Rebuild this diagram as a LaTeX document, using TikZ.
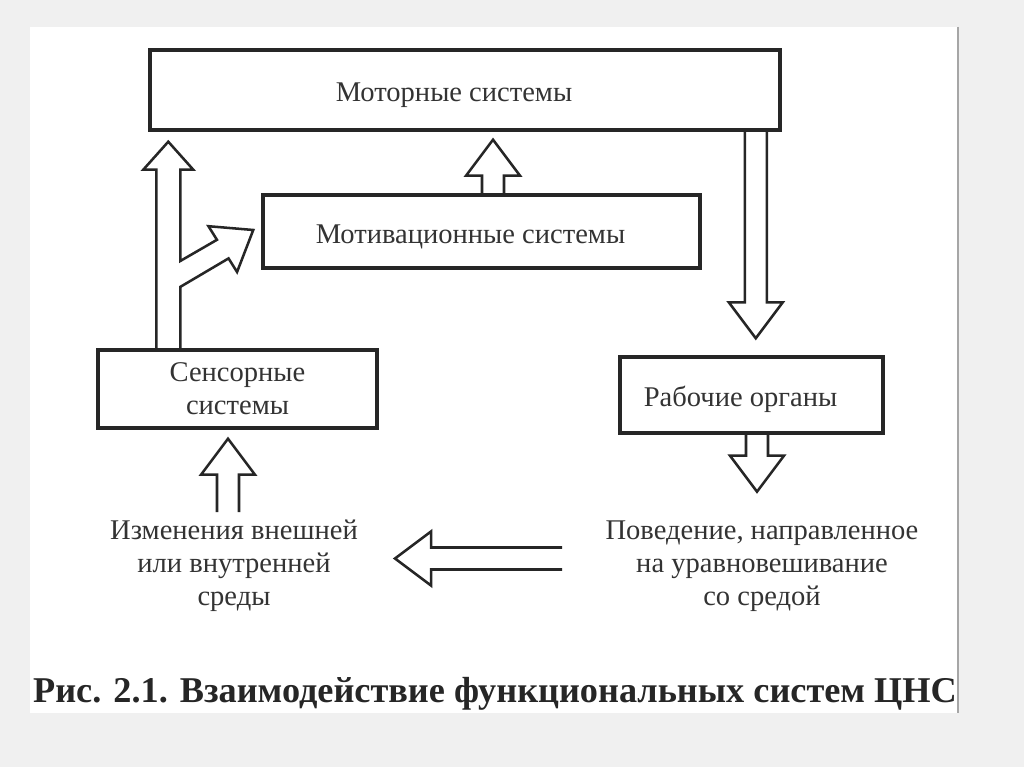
\documentclass[tikz,border=0pt]{standalone}
\usepackage{fontspec}
\setmainfont{Liberation Serif}
\usetikzlibrary{calc}
\tikzstyle{every node}=[font=\fontsize{20.3}{23.5}\selectfont, text=black!80]
\tikzstyle{block} = [rectangle, draw=black!85, line width=2.4pt, text centered, align=center]
\tikzstyle{fat} = [draw=black!85, line width=1.8pt, line join=miter]
\def\shw{0.275cm}
\def\hdw{0.675cm}
\def\hdl{0.9cm}
\newcommand{\fatarrow}[2]{%
  \coordinate (fa-c) at ($(#2)!\hdl!(#1)$);
  \draw[fat] ($(#1)!\shw!90:(#2)$) -- ($(fa-c)!\shw!-90:(#1)$) -- ($(fa-c)!\hdw!-90:(#1)$)
    -- (#2) -- ($(fa-c)!\hdw!90:(#1)$) -- ($(fa-c)!\shw!90:(#1)$) -- ($(#1)!\shw!-90:(#2)$);
}

\begin{document}
\begin{tikzpicture}[x=0.025cm, y=0.025cm]
            \useasboundingbox (0,0) rectangle (1024,-767);
            \fill[black!6] (0,0) rectangle (1024,-767);
            \fill[white] (30,-27) rectangle (958,-713);
            \draw[black!35, line width=0.8pt] (958,-27) -- (958,-713);

            \node (motor) [block, minimum width=15.75cm, minimum height=2cm, text height=0.75cm] at (465,-90) {Моторные системы\hspace*{0.55cm}};
            \node (motiv) [block, minimum width=10.925cm, minimum height=1.825cm, text height=0.75cm] at (481.5,-231.5) {Мотивационные системы\hspace*{0.55cm}};
            \node (sens) [block, minimum width=6.975cm, minimum height=1.95cm] at (237.5,-389) {Сенсорные\\системы};
            \node (rab) [block, minimum width=6.575cm, minimum height=1.9cm, text height=0.75cm] at (751.5,-395) {Рабочие органы\hspace*{0.55cm}};
            \node (izm) [align=center] at (234,-566) {Изменения внешней\\или внутренней\\среды};
            \node (pov) [align=center] at (762,-566) {Поведение, направленное\\на уравновешивание\\со средой};
            \node (cap) [font=\bfseries\fontsize{25.8}{30}\selectfont, text=black!85] at (495,-694) {Рис. 2.1. Взаимодействие функциональных систем ЦНС};

            \coordinate (st) at ($(sens.north west)+(72,0)$);
            \coordinate (tt) at ($(st |- motor.south)+(0,-10)$);
            \coordinate (bt) at ($(motiv.west)+(-8,1.5)$);
            \draw[fat] ($(st)+(-12,0)$) -- ($(tt)+(-12,-28)$) -- ($(tt)+(-25,-28)$) -- (tt)
              -- ($(tt)+(25,-28)$) -- ($(tt)+(12,-28)$) -- ($(st)+(12,87.3)$)
              -- ($(bt)+(-36.3,-9.8)$) -- ($(bt)+(-44.8,3.8)$) -- (bt)
              -- ($(bt)+(-16.2,-42)$) -- ($(bt)+(-24.7,-28.4)$) -- ($(st)+(12,61.4)$) -- ($(st)+(12,0)$);

            \coordinate (m1) at ($(motiv.north)+(11.5,0)$);
            \coordinate (m2) at ($(m1 |- motor.south)+(0,-8)$);
            \fatarrow{m1}{m2}
            \coordinate (r1) at ($(motor.south east)+(-26,0)$);
            \coordinate (r2) at ($(r1 |- rab.north)+(0,17)$);
            \fatarrow{r1}{r2}
            \coordinate (o1) at ($(rab.south)+(5.5,0)$);
            \coordinate (o2) at ($(o1)+(0,-57)$);
            \fatarrow{o1}{o2}
            \coordinate (s1) at ($(izm)+(-6,54)$);
            \coordinate (s2) at ($(s1 |- sens.south)+(0,-9)$);
            \fatarrow{s1}{s2}
            \coordinate (h1) at ($(pov)+(-200,7.5)$);
            \coordinate (h2) at ($(izm)+(161,7.5)$);
            \fatarrow{h1}{h2}
          \end{tikzpicture}
\end{document}
